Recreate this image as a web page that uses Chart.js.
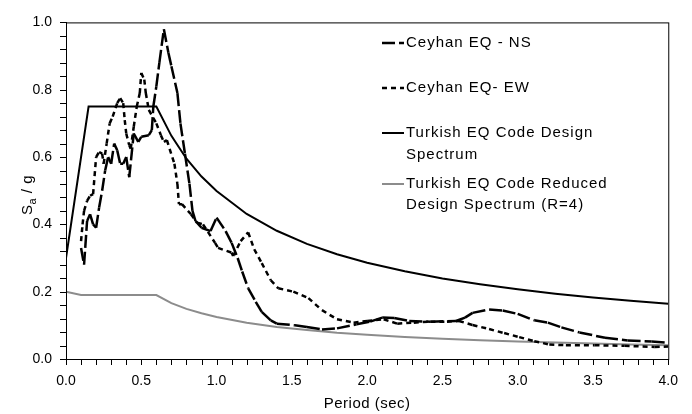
<!DOCTYPE html>
<html>
<head>
<meta charset="utf-8">
<script src="https://cdn.jsdelivr.net/npm/chart.js@4.4.1/dist/chart.umd.min.js"></script>
<style>
  html, body { margin: 0; padding: 0; background: #fff; }
  #wrap { width: 692px; height: 414px; }
</style>
</head>
<body>
<div id="wrap"><canvas id="canvas" width="692" height="414"></canvas></div>

<script>
// response spectra, Sa/g against period (sec)
var nsPeriod = [0.10,0.12,0.14,0.16,0.18,0.20,0.22,0.24,0.26,0.28,
                0.30,0.32,0.34,0.36,0.38,0.40,0.42,0.45,0.48,0.50,
                0.55,0.57,0.58,0.60,0.62,0.65,0.68,0.70,0.74,0.76,
                0.79,0.82,0.84,0.86,0.90,0.96,1.00,1.06,1.10,1.14,
                1.17,1.21,1.26,1.30,1.36,1.40,1.52,1.60,1.70,1.80,
                1.93,2.02,2.10,2.18,2.28,2.42,2.59,2.65,2.70,2.81,
                2.90,3.00,3.11,3.20,3.29,3.41,3.58,3.73,3.89,4.00];
var nsSa = [0.33,0.28,0.41,0.43,0.40,0.39,0.45,0.50,0.56,0.60,
            0.58,0.64,0.62,0.58,0.58,0.60,0.54,0.67,0.645,0.66,
            0.665,0.68,0.75,0.81,0.88,0.98,0.91,0.87,0.79,0.70,
            0.61,0.52,0.44,0.41,0.39,0.38,0.42,0.38,0.345,0.30,
            0.26,0.21,0.17,0.14,0.115,0.105,0.10,0.095,0.088,0.091,
            0.103,0.111,0.123,0.122,0.113,0.111,0.113,0.123,0.137,0.147,
            0.144,0.134,0.115,0.108,0.094,0.079,0.063,0.055,0.052,0.048];

var ewPeriod = [0.10,0.11,0.12,0.14,0.16,0.18,0.20,0.22,0.24,0.25,
                0.27,0.29,0.31,0.34,0.36,0.38,0.39,0.40,0.42,0.43,
                0.45,0.47,0.49,0.50,0.52,0.53,0.55,0.60,0.63,0.65,
                0.67,0.72,0.74,0.75,0.77,0.83,0.87,0.91,0.99,1.01,
                1.10,1.11,1.16,1.21,1.25,1.30,1.36,1.41,1.51,1.61,
                1.70,1.80,1.91,2.00,2.11,2.20,2.31,2.42,2.53,2.61,
                2.70,2.81,2.91,3.01,3.11,3.21,3.32,3.51,3.71,3.91,4.00];
var ewSa = [0.35,0.40,0.44,0.47,0.485,0.49,0.60,0.615,0.61,0.58,
            0.64,0.70,0.72,0.76,0.775,0.76,0.71,0.67,0.635,0.625,
            0.69,0.75,0.79,0.85,0.83,0.79,0.74,0.70,0.665,0.645,
            0.65,0.58,0.52,0.46,0.46,0.43,0.405,0.40,0.345,0.33,
            0.316,0.306,0.35,0.376,0.326,0.285,0.234,0.21,0.20,0.181,
            0.145,0.118,0.108,0.113,0.118,0.105,0.108,0.111,0.111,0.113,
            0.101,0.089,0.077,0.065,0.053,0.043,0.041,0.041,0.039,0.036,0.037];

var designPeriod = [0,0.15,0.60,0.70,0.80,0.90,1.00,1.20,1.40,1.60,1.80,2.00,2.25,2.50,2.75,3.00,3.25,3.50,3.75,4.00];
var designSa = [0.30,0.75,0.75,0.663,0.595,0.542,0.499,0.431,0.381,0.342,0.311,0.286,0.261,0.239,0.222,0.207,0.194,0.183,0.173,0.164];

var reducedPeriod = [0,0.10,0.60,0.70,0.80,0.90,1.00,1.20,1.40,1.60,1.80,2.00,2.25,2.50,2.75,3.00,3.25,3.50,3.75,4.00];
var reducedSa = [0.20,0.19,0.19,0.166,0.149,0.136,0.125,0.108,0.095,0.086,0.078,0.072,0.065,0.060,0.056,0.052,0.049,0.046,0.043,0.041];

var seriesNames = [
  ['Ceyhan EQ - NS'],
  ['Ceyhan EQ- EW'],
  ['Turkish EQ Code Design', 'Spectrum'],
  ['Turkish EQ Code Reduced', 'Design Spectrum (R=4)']
];

var FONT = '"Liberation Sans", Arial, sans-serif';

function toPoints(xs, ys) {
  var pts = [];
  for (var i = 0; i < xs.length; i++) pts.push({x: xs[i], y: ys[i]});
  return pts;
}

// restart the dash on every segment so short steps come out solid
var restartDash = { borderDashOffset: function(c) { return (c.p0DataIndex % 2) * 0.001; } };

var datasets = [
  { label: seriesNames[0].join(' '), data: toPoints(nsPeriod, nsSa), borderColor: '#000',
    borderWidth: 2.5, borderDash: [13, 4], segment: restartDash, legendY: [43] },
  { label: seriesNames[1].join(' '), data: toPoints(ewPeriod, ewSa), borderColor: '#000',
    borderWidth: 2.5, borderDash: [5, 4], segment: restartDash, legendY: [88] },
  { label: seriesNames[2].join(' '), data: toPoints(designPeriod, designSa), borderColor: '#000',
    borderWidth: 2, legendY: [133, 155] },
  { label: seriesNames[3].join(' '), data: toPoints(reducedPeriod, reducedSa), borderColor: '#8c8c8c',
    borderWidth: 2, legendY: [184, 205] }
];
datasets.forEach(function(d) {
  d.showLine = true; d.pointRadius = 0; d.fill = false; d.tension = 0;
});

function every(step) {
  return function(v) {
    return Math.abs(v / step - Math.round(v / step)) < 1e-6 ? v.toFixed(1) : '';
  };
}

var decor = {
  id: 'decor',
  afterDraw: function(chart) {
    var ctx = chart.ctx, a = chart.chartArea;
    var sx = chart.scales.x, sy = chart.scales.y;
    ctx.save();
    ctx.strokeStyle = '#000';
    ctx.lineWidth = 1;
    ctx.strokeRect(a.left + 0.5, a.top + 0.5, a.right - a.left, a.bottom - a.top);

    // tick marks, outside the frame
    ctx.beginPath();
    sx.ticks.forEach(function(t) {
      var px = Math.round(sx.getPixelForValue(t.value)) + 0.5;
      ctx.moveTo(px, a.bottom); ctx.lineTo(px, a.bottom + 6);
    });
    sy.ticks.forEach(function(t) {
      var py = Math.round(sy.getPixelForValue(t.value)) + 0.5;
      ctx.moveTo(a.left - 6, py); ctx.lineTo(a.left, py);
    });
    ctx.stroke();

    // legend inside the plot
    ctx.fillStyle = '#000';
    ctx.font = '15px ' + FONT;
    ctx.textBaseline = 'middle';
    ctx.textAlign = 'left';
    ctx.letterSpacing = '1px';
    chart.data.datasets.forEach(function(d, i) {
      var y = d.legendY[0];
      ctx.save();
      ctx.strokeStyle = d.borderColor;
      ctx.lineWidth = d.borderWidth;
      ctx.setLineDash(d.borderDash || []);
      ctx.beginPath();
      ctx.moveTo(382, y);
      ctx.lineTo(404, y);
      ctx.stroke();
      ctx.restore();
      seriesNames[i].forEach(function(line, k) {
        ctx.fillText(line, 406, d.legendY[k]);
      });
    });

    // x title
    ctx.textAlign = 'center';
    ctx.letterSpacing = '0.5px';
    ctx.fillText('Period (sec)', (a.left + a.right) / 2, 404);

    // y title with subscript
    ctx.translate(28, 195);
    ctx.rotate(-Math.PI / 2);
    ctx.textAlign = 'left';
    var big = '15px ' + FONT, small = '11px ' + FONT;
    ctx.font = big; var wS = ctx.measureText('S').width, wG = ctx.measureText(' / g').width;
    ctx.font = small; var wA = ctx.measureText('a').width;
    var x0 = -(wS + wA + wG) / 2;
    ctx.font = big; ctx.fillText('S', x0, 0);
    ctx.font = small; ctx.fillText('a', x0 + wS, 5);
    ctx.font = big; ctx.fillText(' / g', x0 + wS + wA, 0);
    ctx.restore();
  }
};

var ctx = document.getElementById('canvas').getContext('2d');
new Chart(ctx, {
  type: 'scatter',
  data: { datasets: datasets },
  plugins: [decor],
  options: {
    responsive: false,
    animation: false,
    events: [],
    layout: { padding: { left: 0, right: 18, top: 15, bottom: 0 } },
    plugins: { legend: { display: false }, tooltip: { enabled: false } },
    scales: {
      x: {
        type: 'linear', min: 0, max: 4,
        afterFit: function(s) { s.height = 55; },
        grid: { display: false, drawTicks: false },
        border: { color: '#000' },
        ticks: { stepSize: 0.1, maxTicksLimit: 100, autoSkip: false, maxRotation: 0,
                 padding: 14, color: '#000', font: { family: FONT, size: 14 }, callback: every(0.5) }
      },
      y: {
        min: 0, max: 1,
        afterFit: function(s) { s.width = 66; },
        grid: { display: false, drawTicks: false },
        border: { color: '#000' },
        ticks: { stepSize: 0.04, maxTicksLimit: 100, autoSkip: false,
                 padding: 14, color: '#000', font: { family: FONT, size: 14 }, callback: every(0.2) }
      }
    }
  }
});
</script>
</body>
</html>
